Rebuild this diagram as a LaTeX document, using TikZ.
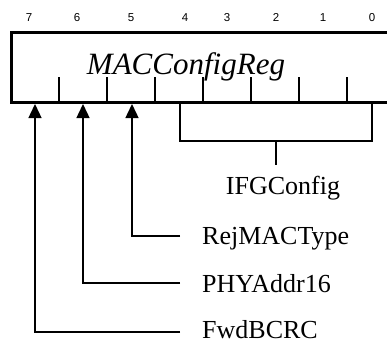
\documentclass[tikz,border=0pt]{standalone}
\usepackage{fontspec}
\setmainfont{Liberation Serif}
\newfontfamily\bitfont{Liberation Sans}
\usetikzlibrary{arrows.meta}
\begin{document}
\begin{tikzpicture}[x=1pt,y=-1pt,
  regline/.style={line width=3pt},
  tickline/.style={line width=1.3pt},
  conn/.style={line width=1.4pt},
  arr/.style={conn,-{Triangle[length=14pt,width=13pt]}},
  bitnum/.style={font=\bitfont\fontsize{11.5}{13}\selectfont, inner sep=0pt, anchor=base},
  lbl/.style={font=\fontsize{26}{30}\selectfont, inner sep=0pt, anchor=base west},
  title/.style={font=\itshape\fontsize{31}{35}\selectfont, inner sep=0pt, anchor=base}]
\useasboundingbox (0,0) rectangle (387,343);
% register box (open on the right)
\draw[regline] (395,32.5) -- (11.5,32.5) -- (11.5,102.5) -- (395,102.5);
% bit ticks
\foreach \x in {59,107,155,203,251,299,347}
  \draw[tickline] (\x,77) -- (\x,102.5);
% bit numbers
\foreach \x/\n in {29/7,77/6,131/5,185/4,227/3,276/2,323/1,372/0}
  \node[bitnum] at (\x,21) {\n};
\node[title] (reg) at (186,74) {MACConfigReg};
% coordinates on the register
\coordinate (b7) at (35,104);
\coordinate (b6) at (83,104);
\coordinate (b5) at (132,104);
\coordinate (b4) at (180,104);
\coordinate (b0) at (372,104);
% IFGConfig bracket
\coordinate (l4) at (180,141);
\coordinate (l0) at (372,141);
\coordinate (mid) at (276,141);
\coordinate (stem) at (276,165);
\draw[conn] (b4) -- (l4) -- (l0) -- (b0);
\draw[conn] (mid) -- (stem);
\node[lbl, anchor=base] (ifg) at (283,194) {IFGConfig};
% labels
\node[lbl] (rej) at (202,244.5) {RejMACType};
\node[lbl] (phy) at (202,292) {PHYAddr16};
\node[lbl] (fwd) at (202,338.5) {FwdBCRC};
\coordinate (e5) at (132,236);
\coordinate (e6) at (83,283);
\coordinate (e7) at (35,332);
\coordinate (r5) at (180,236);
\coordinate (r6) at (180,283);
\coordinate (r7) at (180,332);
\draw[arr] (r5) -- (e5) -- (b5);
\draw[arr] (r6) -- (e6) -- (b6);
\draw[arr] (r7) -- (e7) -- (b7);
\end{tikzpicture}
\end{document}
